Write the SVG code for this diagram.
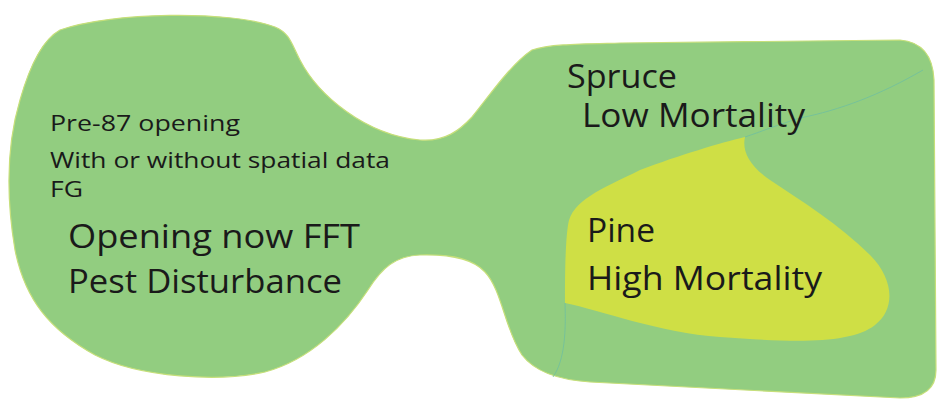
<svg xmlns="http://www.w3.org/2000/svg" width="940" height="403" viewBox="0 0 940 403">
<style>
.t{font-family:"Open Sans","Noto Sans","Liberation Sans",sans-serif;fill:#1a1a1a}
.s{font-size:21px}
.b{font-size:32px}
</style>
<rect width="940" height="403" fill="#ffffff"/>
<g id="area">
<path d="M 60,30 C 110,12 230,10 275,27 C 290,33 292,45 300,60 C 318,95 365,135 420,140 C 445,142 460,130 472,117 C 490,95 510,65 532,50 C 550,44 580,44 620,43 L 900,40 C 922,42 933,55 934,80 L 936,370 C 936,390 922,398 900,398 L 590,382 C 560,380 535,372 522,355 C 505,330 502,290 485,272 C 474,260 455,254 420,255 C 395,256 382,268 368,290 C 345,325 310,360 265,372 C 220,382 140,378 95,355 C 50,330 25,300 15,250 C 5,190 8,140 20,100 C 30,65 42,40 60,30 Z" fill="#92cd80" stroke="#c6df7a" stroke-width="1.2"/>
</g>
<g id="pine">
<path d="M 745,137 C 742,150 748,165 770,180 C 800,200 840,225 870,255 C 895,280 895,310 875,325 C 850,345 790,342 720,337 C 660,333 600,310 565,303 C 565,280 565,245 568,225 C 572,200 600,190 640,170 C 680,155 720,143 745,137 Z" fill="#cfdf45"/>
</g>
<g id="connectors" fill="none" stroke="#6fbfa0" stroke-width="0.8">
<path d="M 923,70 C 880,95 840,110 800,118 C 780,124 760,132 745,137"/>
<path d="M 565,303 C 566,330 565,360 553,377"/>
</g>
<g id="labels-left">
<text class="t s" x="50" y="131" textLength="190" lengthAdjust="spacingAndGlyphs">Pre-87 opening</text>
<text class="t s" x="50" y="168" textLength="340" lengthAdjust="spacingAndGlyphs">With or without spatial data</text>
<text class="t s" x="50" y="197" textLength="33" lengthAdjust="spacingAndGlyphs">FG</text>
<text class="t b" x="68" y="248" textLength="292" lengthAdjust="spacingAndGlyphs">Opening now FFT</text>
<text class="t b" x="68" y="293" textLength="274" lengthAdjust="spacingAndGlyphs">Pest Disturbance</text>
</g>
<g id="labels-right">
<text class="t b" x="567" y="88" textLength="110" lengthAdjust="spacingAndGlyphs">Spruce</text>
<text class="t b" x="582" y="127" textLength="223" lengthAdjust="spacingAndGlyphs">Low Mortality</text>
<text class="t b" x="587" y="242" textLength="68" lengthAdjust="spacingAndGlyphs">Pine</text>
<text class="t b" x="587" y="290" textLength="235" lengthAdjust="spacingAndGlyphs">High Mortality</text>
</g>
</svg>
